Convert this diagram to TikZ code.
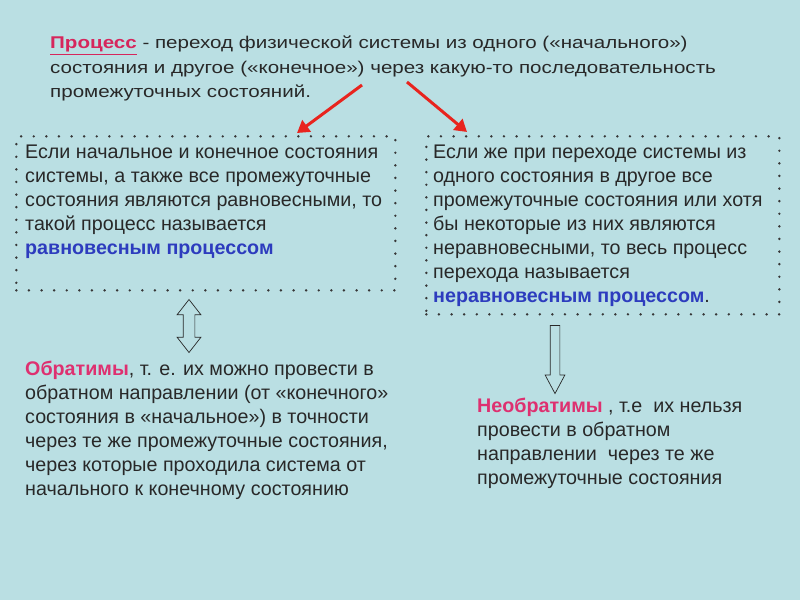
\documentclass[tikz,border=0pt]{standalone}
\usepackage{fontspec}
\setmainfont{Liberation Sans}
\newfontfamily\widefont[FakeStretch=1.21]{Liberation Sans}
\usetikzlibrary{arrows.meta,positioning,shapes.arrows}

\definecolor{bgcyan}{RGB}{186,223,227}
\definecolor{textgray}{RGB}{40,40,40}
\definecolor{dotgray}{RGB}{55,55,55}
\definecolor{titlepink}{RGB}{214,38,92}
\definecolor{termpink}{RGB}{222,48,112}
\definecolor{procblue}{RGB}{45,60,190}
\definecolor{arrowred}{RGB}{232,36,30}

\begin{document}
\begin{tikzpicture}[x=1pt,y=-1pt,
    txt/.style={anchor=north west, inner sep=0pt, align=left, text=textgray,
      font=\fontsize{19.7}{24}\selectfont},
    dotbox/.style={draw=dotgray, line width=2.7pt, line cap=round,
      dash pattern=on 0pt off 12.6pt, anchor=north west, inner sep=0pt},
    redarrow/.style={draw=arrowred, line width=3pt,
      -{Triangle[length=12pt,width=14pt]}},
    hollow/.style={draw=textgray, fill=bgcyan, line width=0.7pt, inner sep=0pt}
  ]
    \fill[bgcyan] (0,0) rectangle (800,600);
    \useasboundingbox (0,0) rectangle (800,600);

    % definition of the process
    \node[txt, font=\widefont\fontsize{17}{24.5}\selectfont] (title) at (50,36)
      {\textcolor{titlepink}{\underline{\textbf{Процесс}}} - переход физической системы из одного («начального»)\\
       состояния и другое («конечное») через какую-то последовательность\\
       промежуточных состояний.};

    % the two cases
    \node[dotbox, minimum width=379pt, minimum height=154pt] (eqbox) at (15,135) {};
    \node[dotbox, minimum width=353pt, minimum height=178pt] (neqbox) at (425,135) {};

    \node[txt] (eqtext) at (25,145)
      {Если начальное и конечное состояния\\
       системы, а также все промежуточные\\
       состояния являются равновесными, то\\
       такой процесс называется\\
       \textcolor{procblue}{\textbf{равновесным процессом}}};
    \node[txt] (neqtext) at (433,145)
      {Если же при переходе системы из\\
       одного состояния в другое все\\
       промежуточные состояния или хотя\\
       бы некоторые из них являются\\
       неравновесными, то весь процесс\\
       перехода называется\\
       \textcolor{procblue}{\textbf{неравновесным процессом}}.};

    \coordinate (fromeq) at (362,85);
    \coordinate (fromneq) at (407,82);
    \coordinate (toeq) at (297,133);
    \coordinate (toneq) at (467,132);
    \draw[redarrow] (fromeq) -- (toeq);
    \draw[redarrow] (fromneq) -- (toneq);

    % consequences
    \node[hollow, double arrow, rotate=90, minimum height=53pt, inner sep=5.5pt,
      double arrow head extend=6pt, double arrow tip angle=76] (eqarrow) at (189,326) {};
    \node[hollow, single arrow, rotate=-90, minimum height=68pt, inner sep=4.5pt,
      single arrow head extend=5pt, single arrow tip angle=56] (neqarrow) at (555,355) {};

    \node[txt] (revtext) at (25,361)
      {\textcolor{termpink}{\textbf{Обратимы}}, т. е. их можно провести в\\
       обратном направлении (от «конечного»\\
       состояния в «начальное») в точности\\
       через те же промежуточные состояния,\\
       через которые проходила система от\\
       начального к конечному состоянию};
    \node[txt] (irrtext) at (477,398)
      {\textcolor{termpink}{\textbf{Необратимы}} , т.е~ их нельзя\\
       провести в обратном\\
       направлении~ через те же\\
       промежуточные состояния};
  \end{tikzpicture}
\end{document}
